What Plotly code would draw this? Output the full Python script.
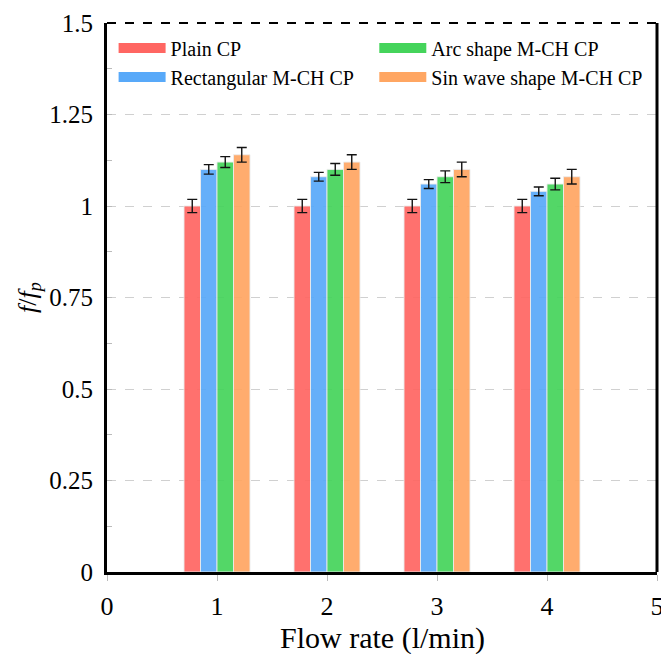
import plotly.graph_objects as go

# Flow rates (l/min) and normalised friction factor f/f_p for each cold plate
flow_rates = [1, 2, 3, 4]
series_names = ["Plain CP", "Rectangular M-CH CP", "Arc shape M-CH CP", "Sin wave shape M-CH CP"]
plain_cp = [1.00, 1.00, 1.00, 1.00]
rectangular_cp = [1.10, 1.08, 1.06, 1.04]
arc_cp = [1.12, 1.10, 1.08, 1.06]
sin_wave_cp = [1.14, 1.12, 1.10, 1.08]
plain_err = [0.018, 0.018, 0.018, 0.018]
rectangular_err = [0.013, 0.012, 0.012, 0.012]
arc_err = [0.015, 0.016, 0.016, 0.016]
sin_wave_err = [0.02, 0.02, 0.02, 0.02]

y_ticks = [0, 0.25, 0.5, 0.75, 1, 1.25, 1.5]
y_tick_text = ["0", "0.25", "0.5", "0.75", "1", "1.25", "1.5"]
x_ticks = [0, 1, 2, 3, 4, 5]
x_title = "Flow rate (l/min)"

colors = ["#FF6662", "#58A9F9", "#45D45B", "#FFA662"]
values = [plain_cp, rectangular_cp, arc_cp, sin_wave_cp]
errors = [plain_err, rectangular_err, arc_err, sin_wave_err]

bar_width = 0.15
offsets = [-1.5 * bar_width, -0.5 * bar_width, 0.5 * bar_width, 1.5 * bar_width]
# Two-column legend: first two series in the left column, the rest in the right
legend_ids = ["legend", "legend", "legend2", "legend2"]

FONT = "Liberation Serif, Times New Roman, serif"

fig = go.Figure()
for name, vals, errs, col, off in zip(series_names, values, errors, colors, offsets):
    fig.add_trace(go.Bar(
        x=[q + off for q in flow_rates],
        y=vals,
        width=bar_width,
        name=name,
        marker=dict(color=col, line=dict(color="rgba(235,235,235,0.9)", width=1)),
        opacity=0.92,
        error_y=dict(type="data", array=errs, color="black", thickness=1.4, width=5),
        showlegend=False,
    ))

# Legend entries drawn as wide colour swatches
for name, col, leg in zip(series_names, colors, legend_ids):
    fig.add_trace(go.Scatter(
        x=[None], y=[None], mode="lines", name=name,
        line=dict(color=col, width=16),
        legend=leg,
    ))

legend_style = dict(
    orientation="v", y=0.99, xanchor="left", yanchor="top",
    font=dict(size=20, family=FONT), tracegroupgap=0,
    bgcolor="rgba(0,0,0,0)", itemwidth=47,
)

fig.update_layout(
    width=661, height=654,
    margin=dict(l=107, r=4, t=23, b=82),
    plot_bgcolor="white", paper_bgcolor="white",
    font=dict(family=FONT, color="black"),
    barmode="overlay",
    legend=dict(x=0.012, **legend_style),
    legend2=dict(x=0.486, **legend_style),
)

fig.update_xaxes(
    range=[0, 5], tickvals=x_ticks, ticks="outside", ticklen=6, tickcolor="#bbbbbb",
    showgrid=False, zeroline=False, automargin=False,
    showline=True, linecolor="black", linewidth=3,
    ticklabeloverflow="allow", ticklabelstandoff=3,
    tickfont=dict(size=26),
)
fig.update_yaxes(
    range=[0, 1.5], tickvals=y_ticks, ticktext=y_tick_text,
    ticks="inside", ticklen=5, tickcolor="#bbbbbb",
    showgrid=True, gridcolor="#d0d0d0", griddash="dash", gridwidth=1,
    zeroline=False, showline=True, linecolor="black", linewidth=3, automargin=False,
    minor=dict(dtick=0.125, ticks="inside", ticklen=5, tickcolor="#bbbbbb", showgrid=False),
    ticklabelstandoff=6,
    tickfont=dict(size=25),
    title=dict(text="<i>f</i>/<i>f</i><sub><i>p</i></sub>", font=dict(size=26), standoff=6),
)

# x-axis title placed just above the bottom edge of the figure
fig.add_annotation(text=x_title, xref="paper", yref="paper", x=0.5, y=0,
                   xanchor="center", yanchor="middle", yshift=-66, showarrow=False,
                   font=dict(size=30, family=FONT, color="black"))

# Frame: solid right edge and dashed top edge
fig.add_shape(type="line", xref="paper", yref="paper", x0=1, x1=1, y0=0, y1=1,
              line=dict(color="black", width=3))
fig.add_shape(type="line", xref="paper", yref="paper", x0=0, x1=1, y0=1, y1=1,
              line=dict(color="black", width=2, dash="dash"))

fig.write_html("out.html")
